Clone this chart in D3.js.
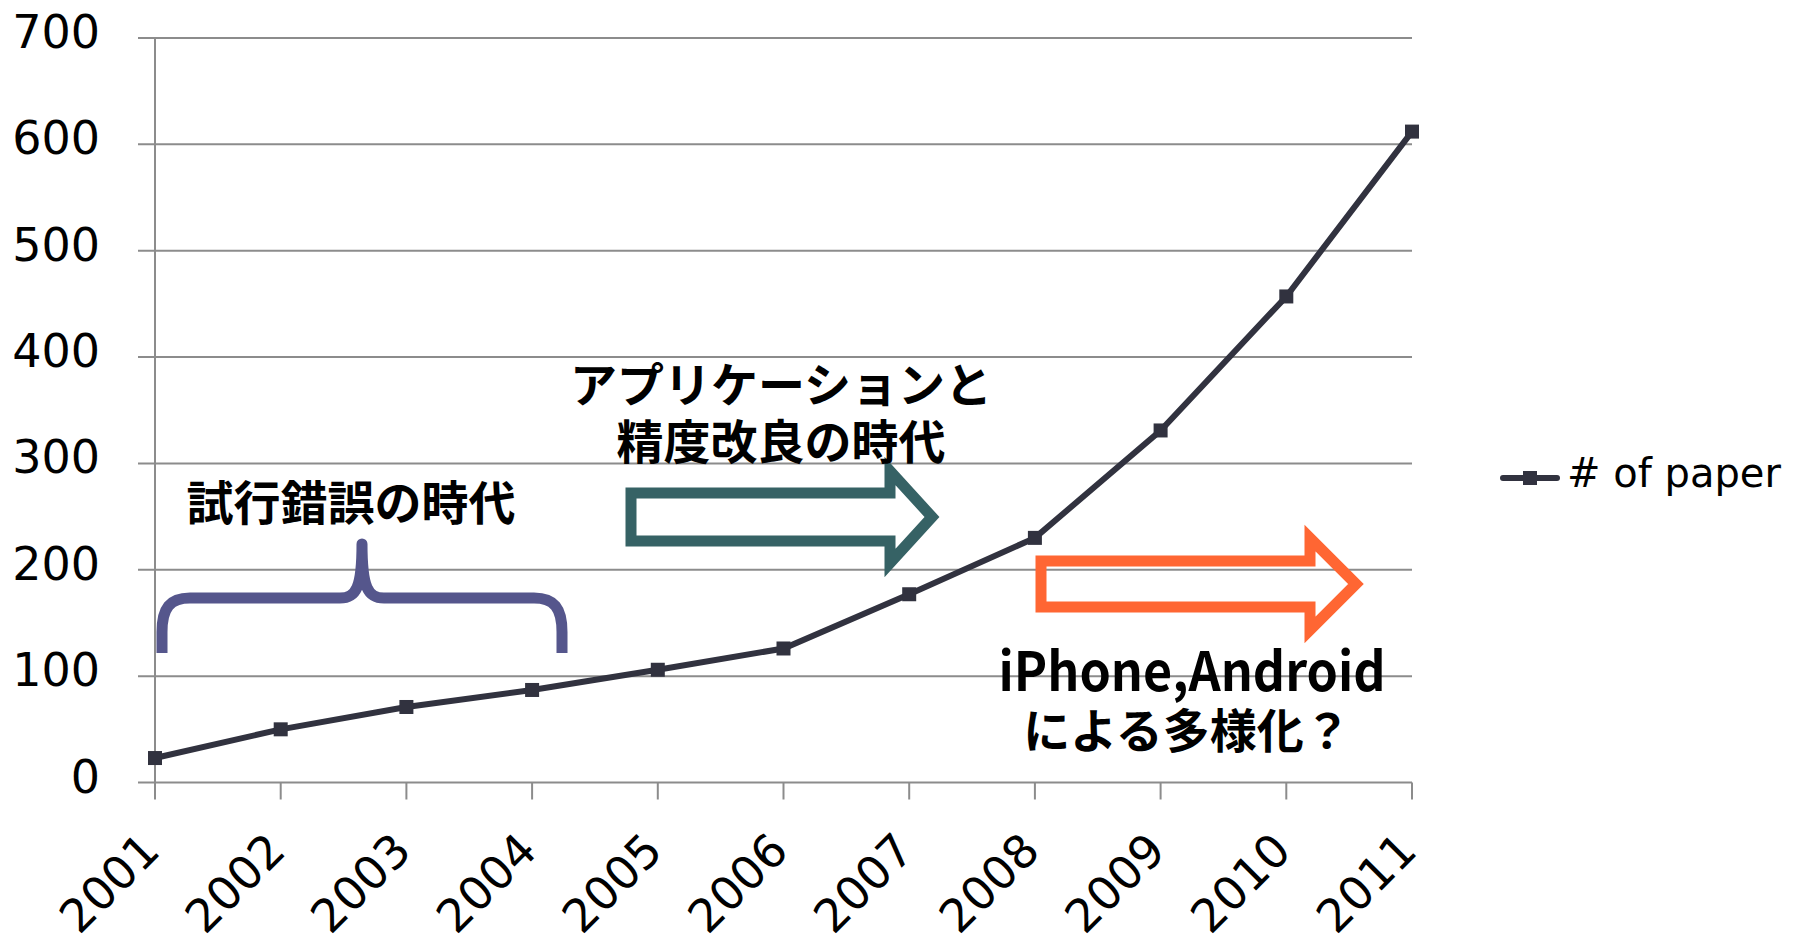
<!DOCTYPE html>
<html>
<head>
<meta charset="utf-8">
<script src="https://cdn.jsdelivr.net/npm/d3@7"></script>
<style>
  body { margin: 0; background: #fff; }
  svg { display: block; }
</style>
</head>
<body>
<div id="chart"></div>
<script>
var years = ["2001","2002","2003","2004","2005","2006","2007","2008","2009","2010","2011"];
var papers = [23, 50, 71, 87, 106, 126, 177, 230, 331, 457, 612];
var yTicks = [0, 100, 200, 300, 400, 500, 600, 700];
var seriesName = "# of paper";

var width = 1800, height = 936;
var plotLeft = 155, plotRight = 1412, plotTop = 38, plotBottom = 782.5;

var svg = d3.select("#chart")
    .append("svg")
    .attr("width", width)
    .attr("height", height);

var x = d3.scalePoint()
    .domain(years)
    .range([plotLeft, plotRight]);

var y = d3.scaleLinear()
    .domain([0, 700])
    .range([plotBottom, plotTop]);

var gridColor = "#8c8c8c";
var lineColor = "#31323f";
var labelFont = "'DejaVu Sans', Verdana, sans-serif";
var jpFont = "'Noto Sans CJK JP', sans-serif";

// grid lines + y ticks
svg.append("g").selectAll("line")
    .data(yTicks)
    .enter()
    .append("line")
    .attr("x1", plotLeft - 17)
    .attr("x2", plotRight)
    .attr("y1", d => y(d))
    .attr("y2", d => y(d))
    .attr("stroke", gridColor)
    .attr("stroke-width", 2);

// y axis line
svg.append("line")
    .attr("x1", plotLeft).attr("x2", plotLeft)
    .attr("y1", y(700)).attr("y2", y(0))
    .attr("stroke", gridColor)
    .attr("stroke-width", 2);

// x ticks
svg.append("g").selectAll("line")
    .data(years)
    .enter()
    .append("line")
    .attr("x1", d => x(d))
    .attr("x2", d => x(d))
    .attr("y1", y(0))
    .attr("y2", y(0) + 17)
    .attr("stroke", gridColor)
    .attr("stroke-width", 2);

// y labels
svg.append("g").selectAll("text")
    .data(yTicks)
    .enter()
    .append("text")
    .attr("x", 100)
    .attr("y", d => y(d) + 10)
    .attr("text-anchor", "end")
    .style("font-family", labelFont)
    .style("font-size", "46px")
    .attr("fill", "#000")
    .text(d => d);

// x labels
svg.append("g").selectAll("text")
    .data(years)
    .enter()
    .append("text")
    .attr("transform", d => "translate(" + (x(d) + 7) + ",853)rotate(-45)")
    .attr("text-anchor", "end")
    .style("font-family", labelFont)
    .style("font-size", "46px")
    .attr("fill", "#000")
    .text(d => d);

// brace
svg.append("path")
    .attr("d", "M162,653 L162,632 C162,608 170,598 190,598 L340,598 C356,598 362,588 362,544 C362,588 368,598 384,598 L534,598 C554,598 562,608 562,632 L562,653")
    .attr("fill", "none")
    .attr("stroke", "#55568c")
    .attr("stroke-width", 11)
    .attr("stroke-linejoin", "round");

// arrows
function arrowPath(x0, xh, xt, cy, hs, hh) {
    return "M" + x0 + "," + (cy - hs) + " L" + xh + "," + (cy - hs) + " L" + xh + "," + (cy - hh) +
        " L" + xt + "," + cy + " L" + xh + "," + (cy + hh) + " L" + xh + "," + (cy + hs) +
        " L" + x0 + "," + (cy + hs) + " Z";
}

svg.append("path")
    .attr("d", arrowPath(631, 890, 932, 517, 24, 46))
    .attr("fill", "none")
    .attr("stroke", "#366265")
    .attr("stroke-width", 11);

svg.append("path")
    .attr("d", arrowPath(1041, 1310, 1356, 584, 23, 46))
    .attr("fill", "none")
    .attr("stroke", "#ff6633")
    .attr("stroke-width", 11);

// series line
var line = d3.line()
    .x((d, i) => x(years[i]))
    .y(d => y(d));

svg.append("path")
    .datum(papers)
    .attr("d", line)
    .attr("fill", "none")
    .attr("stroke", lineColor)
    .attr("stroke-width", 6);

svg.append("g").selectAll("rect")
    .data(papers)
    .enter()
    .append("rect")
    .attr("x", (d, i) => x(years[i]) - 7)
    .attr("y", d => y(d) - 7)
    .attr("width", 14)
    .attr("height", 14)
    .attr("fill", lineColor);

// annotations
var notes = [
    {t: "試行錯誤の時代", x: 351, y: 520, size: 47},
    {t: "アプリケーションと", x: 781, y: 402, size: 47},
    {t: "精度改良の時代", x: 781, y: 459, size: 47},
    {t: "iPhone,Android", x: 1192, y: 691, size: 54, len: 387},
    {t: "による多様化？", x: 1187, y: 748, size: 47}
];

var noteText = svg.append("g").selectAll("text")
    .data(notes)
    .enter()
    .append("text")
    .attr("x", d => d.x)
    .attr("y", d => d.y)
    .attr("text-anchor", "middle")
    .style("font-family", jpFont)
    .style("font-weight", "bold")
    .style("font-size", d => d.size + "px")
    .attr("fill", "#000")
    .text(d => d.t);

noteText.filter(d => d.len)
    .attr("textLength", d => d.len)
    .attr("lengthAdjust", "spacingAndGlyphs");

// legend
svg.append("line")
    .attr("x1", 1503).attr("x2", 1557)
    .attr("y1", 478).attr("y2", 478)
    .attr("stroke", lineColor)
    .attr("stroke-width", 6)
    .attr("stroke-linecap", "round");

svg.append("rect")
    .attr("x", 1530 - 7).attr("y", 478 - 7)
    .attr("width", 14).attr("height", 14)
    .attr("fill", lineColor);

svg.append("text")
    .attr("x", 1567)
    .attr("y", 487)
    .style("font-family", labelFont)
    .style("font-size", "40px")
    .attr("fill", "#000")
    .text(seriesName);
</script>
</body>
</html>
